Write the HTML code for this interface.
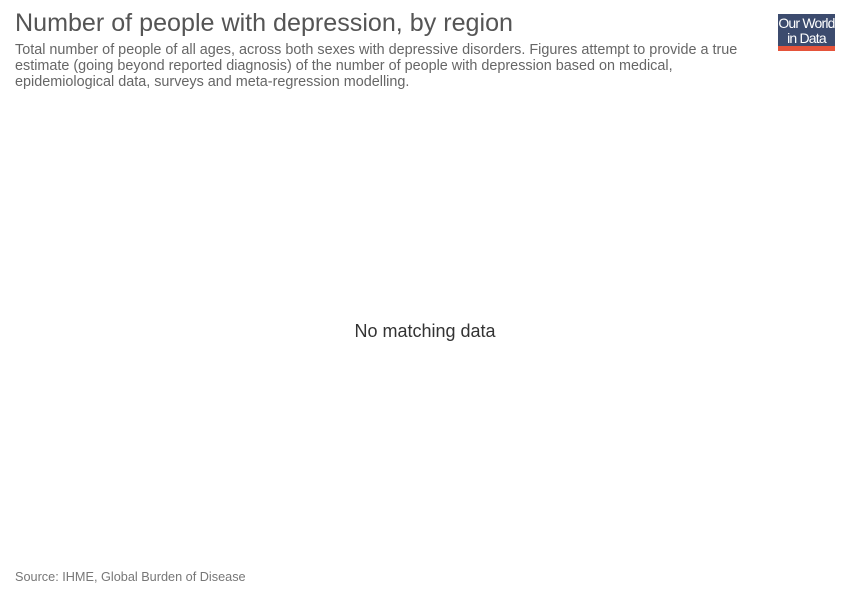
<!DOCTYPE html>
<html><head><meta charset="utf-8"><style>
body{margin:0;width:850px;height:600px;background:#fff;font-family:"Liberation Sans",sans-serif;position:relative;overflow:hidden}
.t{position:absolute;left:15px;top:9px;font-size:25.1px;color:#555;white-space:nowrap}
.s{position:absolute;left:15px;top:42px;width:760px;font-size:14.4px;line-height:16px;color:#666}
.logo{position:absolute;left:778px;top:14px;width:57px;height:37px;background:#3c4b6e;color:#fff;font-size:14px;line-height:15px;text-align:center;box-sizing:border-box;padding-top:2px;letter-spacing:-0.8px}
.logo .bar{position:absolute;left:0;bottom:0;width:57px;height:5px;background:#e5533a}
.nd{position:absolute;left:0;width:850px;top:321px;text-align:center;font-size:18px;color:#333}
.src{position:absolute;left:15px;top:570px;font-size:12.7px;color:#777}
</style></head><body>
<div class="t">Number of people with depression, by region</div>
<div class="s">Total number of people of all ages, across both sexes with depressive disorders. Figures attempt to provide a true estimate (going beyond reported diagnosis) of the number of people with depression based on medical, epidemiological data, surveys and meta-regression modelling.</div>
<div class="logo">Our World<br>in Data<div class="bar"></div></div>
<div class="nd">No matching data</div>
<div class="src">Source: IHME, Global Burden of Disease</div>
</body></html>
